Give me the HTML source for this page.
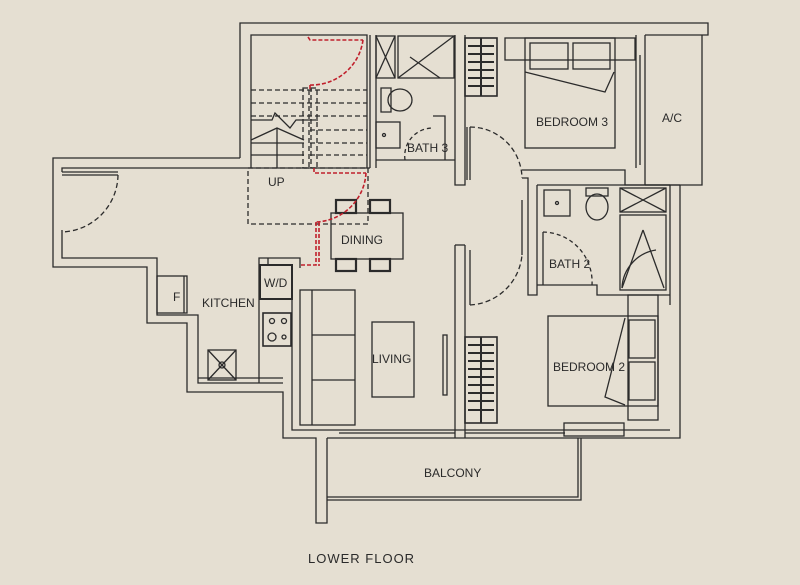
<!DOCTYPE html>
<html><head><meta charset="utf-8"><style>
html,body{margin:0;padding:0;background:#e5dfd2;}
svg{display:block}
text{font-family:"Liberation Sans",sans-serif;fill:#2a2a2a;font-size:12px}
</style></head><body>
<svg width="800" height="585" viewBox="0 0 800 585" xmlns="http://www.w3.org/2000/svg">
<rect width="800" height="585" fill="#e5dfd2"/>
<g fill="none" stroke="#2b2b2b" stroke-width="1.3">
<polyline points="240,158 240,23 708,23 708,35 645,35"/>
<polyline points="251,168 251,35 367,35 367,168"/>
<polyline points="240,158 53,158 53,267 147,267 147,323 187,323 187,392 283,392 283,438 316,438 316,523 327,523 327,438"/>
<polyline points="251,168 62,168 62,172"/>
<polyline points="62,230 62,258 157,258 157,315 198,315 198,383 283,383"/>
<line x1="62" y1="172" x2="118" y2="172"/><line x1="62" y1="175" x2="118" y2="175"/>
<path d="M118,175 A58,58 0 0 1 62,232" stroke-dasharray="5,3"/>
<polyline points="259,383 259,258 300,258 300,268"/><polyline points="268,258 268,265"/>
<polyline points="292,268 292,430 670,430"/>
<polyline points="327,438 680,438 680,185"/>
<line x1="198" y1="378" x2="283" y2="378"/><line x1="339" y1="433" x2="455" y2="433"/><line x1="465" y1="433" x2="565" y2="433"/>
<polyline points="327,497 578,497 578,438"/><polyline points="327,500 581,500 581,438"/>
<rect x="248" y="168" width="120" height="56" stroke-dasharray="5,3"/>
<g stroke-dasharray="5,3"><line x1="251" y1="90" x2="367" y2="90"/><line x1="251" y1="103" x2="367" y2="103"/><line x1="251" y1="116" x2="367" y2="116"/><line x1="310" y1="130" x2="367" y2="130"/><line x1="310" y1="143" x2="367" y2="143"/><line x1="310" y1="155" x2="367" y2="155"/>
<rect x="303" y="88" width="6" height="80"/><rect x="311" y="88" width="6" height="80"/></g>
<line x1="251" y1="143" x2="304" y2="143"/><line x1="251" y1="155" x2="304" y2="155"/>
<polyline points="251,120 272,120 275,113 290,128 296,120 318,120"/>
<polyline points="251,140 277,128 304,140"/><line x1="277" y1="128" x2="277" y2="168"/>
<line x1="251" y1="168" x2="370" y2="168"/>
<line x1="370" y1="35" x2="370" y2="168"/><line x1="376" y1="35" x2="376" y2="168"/>
<rect x="376" y="36" width="19" height="42"/><line x1="376" y1="36" x2="395" y2="78"/><line x1="395" y1="36" x2="376" y2="78"/>
<rect x="398" y="36" width="56" height="42"/><line x1="398" y1="78" x2="454" y2="36"/><line x1="410" y1="57" x2="440" y2="78"/>
<path d="M381,88 h10 v24 h-10z"/><ellipse cx="400" cy="100" rx="12" ry="11"/>
<rect x="376" y="122" width="24" height="26"/><circle cx="384" cy="135" r="1.5"/>
<line x1="376" y1="160" x2="455" y2="160"/>
<path d="M405,160 A28,28 0 0 1 433,128" stroke-dasharray="4,3"/>
<polyline points="433,116 445,116 445,160"/>
<polyline points="455,35 455,185 465,185 465,35"/>
<rect x="465" y="38" width="32" height="58" stroke-width="1.6"/>
<g stroke-width="2"><line x1="468" y1="46" x2="494" y2="46"/><line x1="468" y1="54" x2="494" y2="54"/><line x1="468" y1="62" x2="494" y2="62"/><line x1="468" y1="70" x2="494" y2="70"/><line x1="468" y1="78" x2="494" y2="78"/><line x1="468" y1="86" x2="494" y2="86"/><line x1="481" y1="38" x2="481" y2="96"/></g>
<rect x="505" y="38" width="130" height="22"/><rect x="525" y="38" width="90" height="110"/>
<rect x="530" y="43" width="38" height="26"/><rect x="573" y="43" width="37" height="26"/>
<polyline points="525,72 605,92 614,72"/>
<line x1="636" y1="35" x2="636" y2="168"/><line x1="645" y1="35" x2="645" y2="185"/><line x1="640" y1="55" x2="640" y2="165"/>
<polyline points="645,185 702,185 702,35"/>
<line x1="467" y1="127" x2="467" y2="180"/><line x1="470" y1="127" x2="470" y2="180"/>
<path d="M470,127 A52,52 0 0 1 522,178" stroke-dasharray="5,3"/>
<polyline points="522,178 528,178 528,295 537,295 537,185"/>
<polyline points="522,170 625,170 625,185 680,185"/>
<line x1="537" y1="185" x2="670" y2="185"/>
<rect x="544" y="190" width="26" height="26"/><circle cx="557" cy="203" r="1.5"/>
<rect x="586" y="188" width="22" height="8"/><ellipse cx="597" cy="207" rx="11" ry="13"/>
<rect x="620" y="188" width="46" height="24"/><line x1="620" y1="188" x2="666" y2="212"/><line x1="666" y1="188" x2="620" y2="212"/>
<rect x="620" y="215" width="46" height="75"/><line x1="643" y1="230" x2="622" y2="288"/><line x1="643" y1="230" x2="664" y2="288"/>
<path d="M622,288 A40,40 0 0 1 656,250"/>
<line x1="543" y1="232" x2="543" y2="285"/>
<path d="M543,232 A50,50 0 0 1 592,285" stroke-dasharray="4,3"/>
<polyline points="537,285 597,285 597,295 670,295"/>
<line x1="670" y1="185" x2="670" y2="305"/>
<polyline points="455,245 455,438"/><polyline points="465,245 465,438"/><line x1="455" y1="245" x2="465" y2="245"/>
<line x1="470" y1="250" x2="470" y2="305"/>
<path d="M470,305 A55,55 0 0 0 522,255" stroke-dasharray="5,3"/>
<line x1="522" y1="255" x2="522" y2="200"/>
<rect x="443" y="335" width="4" height="60"/>
<rect x="465" y="337" width="32" height="86" stroke-width="1.6"/>
<g stroke-width="2"><line x1="468" y1="345" x2="494" y2="345"/><line x1="468" y1="353" x2="494" y2="353"/><line x1="468" y1="361" x2="494" y2="361"/><line x1="468" y1="369" x2="494" y2="369"/><line x1="468" y1="377" x2="494" y2="377"/><line x1="468" y1="385" x2="494" y2="385"/><line x1="468" y1="393" x2="494" y2="393"/><line x1="468" y1="401" x2="494" y2="401"/><line x1="468" y1="410" x2="494" y2="410"/><line x1="481" y1="337" x2="481" y2="423"/></g>
<rect x="548" y="316" width="110" height="90"/><rect x="628" y="295" width="30" height="125"/>
<rect x="629" y="320" width="26" height="38"/><rect x="629" y="362" width="26" height="38"/>
<polyline points="625,318 605,397 625,405"/>
<rect x="564" y="423" width="60" height="13"/>
<rect x="300" y="290" width="55" height="135"/><line x1="312" y1="290" x2="312" y2="425"/>
<line x1="312" y1="335" x2="355" y2="335"/><line x1="312" y1="380" x2="355" y2="380"/>
<rect x="372" y="322" width="42" height="75"/>
<rect x="331" y="213" width="72" height="46"/>
<g stroke-width="2.2"><rect x="336" y="200" width="20" height="13"/><rect x="370" y="200" width="20" height="13"/><rect x="336" y="259" width="20" height="12"/><rect x="370" y="259" width="20" height="12"/></g>
<rect x="260" y="265" width="32" height="34" stroke-width="2"/>
<rect x="263" y="313" width="28" height="33" stroke-width="1.6"/>
<circle cx="272" cy="321" r="2.5"/><circle cx="284" cy="321" r="2.5"/><circle cx="272" cy="337" r="4"/><circle cx="284" cy="337" r="2"/>
<rect x="157" y="276" width="30" height="37"/><line x1="184" y1="276" x2="184" y2="313"/>
<rect x="208" y="350" width="28" height="30"/><line x1="208" y1="350" x2="236" y2="380"/><line x1="236" y1="350" x2="208" y2="380"/><circle cx="222" cy="365" r="3"/>
</g>
<g fill="none" stroke="#c0202c" stroke-width="1.6" stroke-dasharray="4,2">
<polyline points="308,37 310,40 363,40"/><path d="M363,40 A52,52 0 0 1 310,85"/><line x1="310" y1="85" x2="310" y2="90"/>
<polyline points="314,168 314,173 366,173"/><path d="M366,173 A52,52 0 0 1 316,222"/>
<polyline points="316,222 316,265 300,265"/><polyline points="319,222 319,266"/>
</g>
<text x="268" y="186">UP</text>
<text x="407" y="152">BATH 3</text>
<text x="536" y="126">BEDROOM 3</text>
<text x="662" y="122">A/C</text>
<text x="341" y="244">DINING</text>
<text x="549" y="268">BATH 2</text>
<text x="264" y="287">W/D</text>
<text x="173" y="301">F</text>
<text x="202" y="307">KITCHEN</text>
<text x="372" y="363">LIVING</text>
<text x="553" y="371">BEDROOM 2</text>
<text x="424" y="477">BALCONY</text>
<text x="308" y="563" style="font-size:13px;letter-spacing:1px">LOWER FLOOR</text>
</svg>
</body></html>
